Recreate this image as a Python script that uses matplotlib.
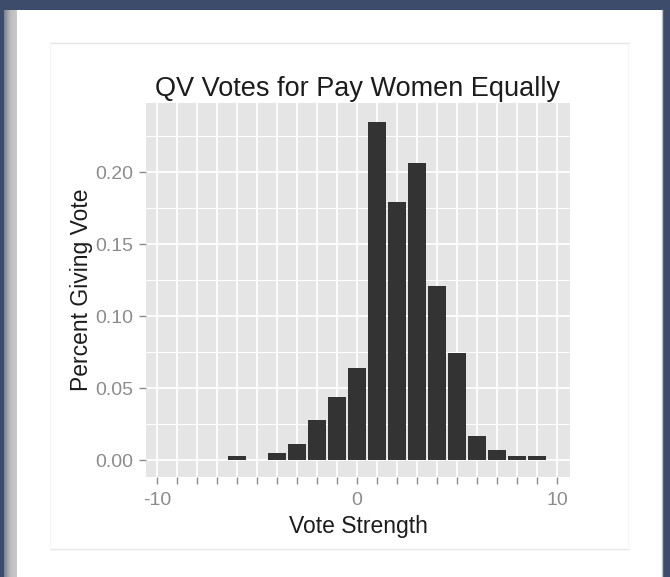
import numpy as np
import matplotlib
matplotlib.use("Agg")
import matplotlib.pyplot as plt
from matplotlib.patches import Rectangle
from matplotlib.colors import LinearSegmentedColormap

plt.rcParams['font.family'] = ['Liberation Sans', 'DejaVu Sans']

# share of respondents at each vote strength
votes = [-6, -4, -3, -2, -1, 0, 1, 2, 3, 4, 5, 6, 7, 8, 9]
share = [0.003, 0.005, 0.011, 0.028, 0.044, 0.064, 0.235, 0.179,
         0.206, 0.121, 0.074, 0.017, 0.007, 0.003, 0.003]

x_ticks = list(range(-10, 11))
x_labels = [str(v) if v % 10 == 0 else '' for v in x_ticks]
y_ticks = [0.0, 0.05, 0.10, 0.15, 0.20]
y_labels = ['0.00', '0.05', '0.10', '0.15', '0.20']

NAVY = '#3d4c6b'
PANEL = '#e5e5e5'
BAR = '#333333'
TICK = '#8c8c8c'
TEXT = '#1c1c1c'

fig = plt.figure(figsize=(6.7, 5.77), dpi=100)
fig.patch.set_facecolor(NAVY)

# page background: white card with a soft shadow on its left side
bg = fig.add_axes([0, 0, 1, 1])
grad = np.linspace(0, 1, 64).reshape(1, -1)
shade = LinearSegmentedColormap.from_list('shade', ['#7b8294', '#bdbdbd', '#c9c9c9'])
bg.imshow(grad, extent=(4, 17, 577, 10), cmap=shade, aspect='auto')
bg.add_patch(Rectangle((17, 10), 646, 567, facecolor='white', edgecolor='none'))
bg.plot([662, 662], [10, 577], color='#b9bec8', lw=1)
bg.plot([50, 629], [43, 43], color='#e4e4e4', lw=1)
bg.plot([50, 629], [549, 549], color='#e8e8e8', lw=1)
bg.plot([50, 50], [43, 549], color='#f5f5f5', lw=0.8)
bg.plot([628, 628], [43, 549], color='#f5f5f5', lw=0.8)
bg.set_xlim(0, 670)
bg.set_ylim(577, 0)
bg.axis('off')

ax = fig.add_axes([146 / 670, 1 - 477 / 577, 424 / 670, 374 / 577])
ax.set_facecolor(PANEL)
ax.bar(votes, share, width=0.9, color=BAR, zorder=3)

ax.set_xlim(-10.55, 10.65)
ax.set_ylim(-0.0118, 0.248)
ax.set_xticks(x_ticks)
ax.set_xticklabels(x_labels)
ax.set_yticks(y_ticks)
ax.set_yticklabels(y_labels)
ax.set_yticks(np.arange(0.025, 0.25, 0.05), minor=True)

ax.grid(which='major', color='white', lw=1.3, zorder=1)
ax.grid(which='minor', axis='y', color='white', lw=0.7, zorder=1)
ax.tick_params(which='minor', length=0)
ax.tick_params(which='major', length=5, width=1, color=TICK,
               labelcolor=TICK, labelsize=14, pad=4)
ax.tick_params(axis='x', pad=6)
for s in ax.spines.values():
    s.set_visible(False)

ax.set_title('QV Votes for Pay Women Equally', fontsize=19.5,
             color=TEXT, pad=5)
ax.set_xlabel('Vote Strength', fontsize=16.5, color=TEXT, labelpad=4)
ax.set_ylabel('Percent Giving Vote', fontsize=16.5, color=TEXT, labelpad=2)

fig.savefig('out.png', dpi=100, facecolor=fig.get_facecolor())
